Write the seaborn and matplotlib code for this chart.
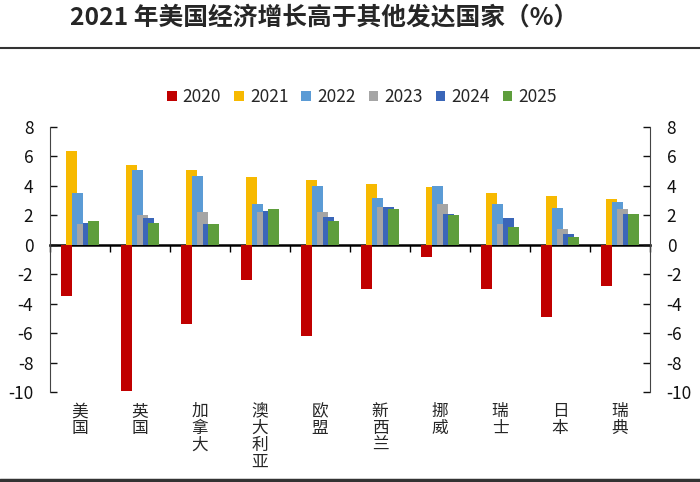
import numpy as np
import pandas as pd
import matplotlib
matplotlib.use('Agg')
import matplotlib.pyplot as plt
import seaborn as sns

# 국가/연도별 성장률 (%)
countries = ['美国', '英国', '加拿大', '澳大利亚', '欧盟', '新西兰', '挪威', '瑞士', '日本', '瑞典']
years = ['2020', '2021', '2022', '2023', '2024', '2025']
g2020 = [-3.5, -9.9, -5.4, -2.4, -6.2, -3.0, -0.8, -3.0, -4.9, -2.8]
g2021 = [6.4, 5.4, 5.1, 4.6, 4.4, 4.1, 3.9, 3.5, 3.3, 3.1]
g2022 = [3.5, 5.1, 4.7, 2.8, 4.0, 3.2, 4.0, 2.8, 2.5, 2.9]
g2023 = [1.4, 2.0, 2.2, 2.2, 2.2, 2.6, 2.8, 1.4, 1.1, 2.4]
g2024 = [1.5, 1.8, 1.4, 2.3, 1.9, 2.6, 2.1, 1.8, 0.7, 2.1]
g2025 = [1.6, 1.5, 1.4, 2.4, 1.6, 2.4, 2.0, 1.2, 0.5, 2.1]
colors = ['#C00000', '#F7B900', '#5B9BD5', '#A5A5A5', '#3A66B8', '#5E9E3C']

df = pd.DataFrame({'country': countries * 6,
                   'year': np.repeat(years, len(countries)),
                   'value': g2020 + g2021 + g2022 + g2023 + g2024 + g2025})

sns.set_style('white')
plt.rcParams['font.family'] = ['Noto Sans CJK SC', 'DejaVu Sans']
plt.rcParams['axes.unicode_minus'] = False

fig = plt.figure(figsize=(7, 4.82), dpi=100)
ax = fig.add_axes([50/700, 1-392/482, 600/700, 265/482])

sns.barplot(data=df, x='country', y='value', hue='year', palette=colors,
            width=0.55, saturation=1, ax=ax)

# 막대 겹치게 (엑셀 overlap)
bw = 0.19
for p in ax.patches:
    c = p.get_x() + p.get_width()/2
    p.set_width(bw)
    p.set_x(c - bw/2)
    p.set_linewidth(0)

ax.set_ylim(-10, 8)
ax.set_yticks(range(-10, 9, 2))
ax.set_xlim(-0.5, 9.5)
ax.set_xlabel('')
ax.set_ylabel('')
ax.set_xticks(range(len(countries)))
ax.set_xticklabels(['\n'.join(c) for c in countries], fontsize=12, linespacing=1.0, va='top')
ax.tick_params(axis='x', length=0, pad=8)
ax.tick_params(axis='y', direction='in', length=5, width=1, labelsize=12.5, pad=12, colors='#111')

for s in ['top', 'bottom', 'right']:
    ax.spines[s].set_visible(False)
ax.spines['left'].set_color('#444')

ax2 = ax.twinx()
ax2.set_ylim(-10, 8)
ax2.set_yticks(range(-10, 9, 2))
ax2.tick_params(axis='y', direction='in', length=5, width=1, labelsize=12.5, pad=12, colors='#111')
for s in ['top', 'bottom', 'left']:
    ax2.spines[s].set_visible(False)
ax2.spines['right'].set_color('#444')

# 0 기준선 + 구간 눈금
sec = ax.secondary_xaxis(10/18)
sec.set_alignment('bottom')
sec.set_xticks(np.arange(-0.5, 10, 1))
sec.set_xticklabels([])
sec.tick_params(direction='out', length=5, width=1, color='black')
sec.spines['bottom'].set_linewidth(1.8)
sec.spines['bottom'].set_color('black')

h, l = ax.get_legend_handles_labels()
ax.legend(h, l, loc='center', bbox_to_anchor=(362/700, 1-97/482), bbox_transform=fig.transFigure,
          ncol=6, frameon=False, fontsize=12.5, handlelength=0.55, handleheight=0.55,
          handletextpad=0.35, columnspacing=0.75)

fig.text(70/700, 1-18/482, '2021 年美国经济增长高于其他发达国家（%）',
         fontsize=17.8, fontweight='bold', ha='left', va='center')
fig.add_artist(plt.Line2D([0, 1], [1-48/482, 1-48/482], transform=fig.transFigure, color='#333', lw=1.5))
fig.add_artist(plt.Line2D([0, 1], [1-480/482, 1-480/482], transform=fig.transFigure, color='#333', lw=2.5))

fig.savefig('out.png', dpi=100)
